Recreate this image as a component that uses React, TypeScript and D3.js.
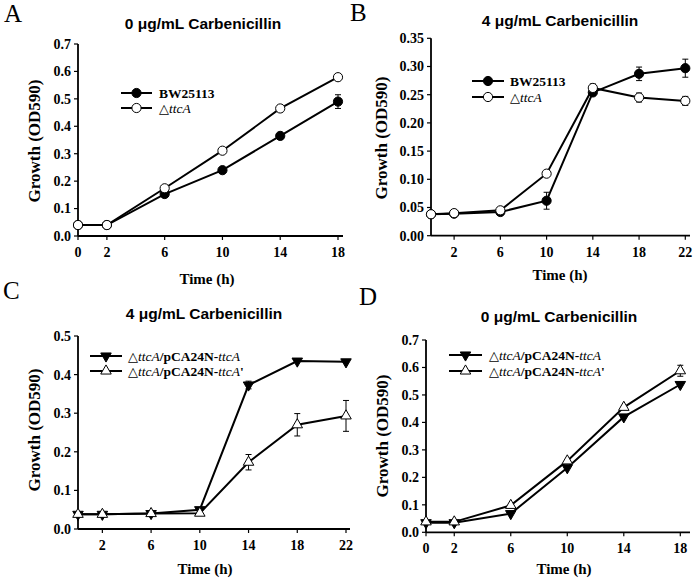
import React from 'react';
import * as d3 from 'd3';

// ---------- data ----------
const timeShort = [0, 2, 6, 10, 14, 18];
const timeLong = [0, 2, 6, 10, 14, 18, 22];
const ticksShort = [0, 2, 6, 10, 14, 18];
const ticksLong = [2, 6, 10, 14, 18, 22];

// Panel A: 0 µg/mL
const aBW = [0.04, 0.04, 0.153, 0.24, 0.365, 0.49];
const aBWErr = [0, 0, 0, 0, 0.005, 0.025];
const aTtc = [0.04, 0.04, 0.174, 0.311, 0.465, 0.579];
const aTtcErr = [0, 0, 0, 0, 0, 0];

// Panel B: 4 µg/mL
const bBW = [0.038, 0.039, 0.042, 0.062, 0.254, 0.287, 0.297];
const bBWErr = [0, 0, 0, 0.015, 0, 0.012, 0.016];
const bTtc = [0.038, 0.04, 0.045, 0.11, 0.262, 0.245, 0.239];
const bTtcErr = [0, 0, 0, 0, 0.007, 0.008, 0.008];

// Panel C: 4 µg/mL complementation
const cComp = [0.038, 0.038, 0.04, 0.05, 0.373, 0.435, 0.433];
const cCompErr = [0, 0, 0, 0.003, 0.01, 0, 0];
const cVec = [0.038, 0.038, 0.04, 0.041, 0.173, 0.27, 0.293];
const cVecErr = [0, 0, 0, 0, 0.02, 0.029, 0.04];

// Panel D: 0 µg/mL complementation
const dComp = [0.035, 0.035, 0.068, 0.235, 0.42, 0.538];
const dCompErr = [0, 0, 0, 0, 0, 0];
const dVec = [0.038, 0.038, 0.098, 0.26, 0.455, 0.588];
const dVecErr = [0, 0, 0, 0, 0, 0.02];

const titles = ['0 μg/mL Carbenicillin', '4 μg/mL Carbenicillin', '4 μg/mL Carbenicillin', '0 μg/mL Carbenicillin'];
const panelLetters = ['A', 'B', 'C', 'D'];
const yLabel = 'Growth (OD590)';
const xLabel = 'Time (h)';

const SERIF = '"Liberation Serif", "Times New Roman", serif';
const SANS = '"Liberation Sans", Arial, sans-serif';

type MarkerType = 'circleFilled' | 'circleOpen' | 'triDown' | 'triUp';

function Marker({ type, x, y }: { type: MarkerType; x: number; y: number }) {
  if (type === 'circleFilled' || type === 'circleOpen') {
    return (
      <circle cx={x} cy={y} r={4.6} fill={type === 'circleFilled' ? '#000' : '#fff'} stroke="#000" strokeWidth={1} />
    );
  }
  const p = d3.symbol().type(d3.symbolTriangle).size(48)() as string;
  return (
    <path
      d={p}
      transform={`translate(${x},${y}) rotate(${type === 'triDown' ? 180 : 0})`}
      fill={type === 'triDown' ? '#000' : '#fff'}
      stroke="#000"
      strokeWidth={1}
    />
  );
}

type LegendItem = { label: React.ReactNode; marker: MarkerType };

type PanelCfg = {
  times: number[];
  xTicks: number[];
  xMax: number;
  x0: number;
  x1: number;
  axisEnd: number;
  yMax: number;
  yStep: number;
  yFmt: string;
  yBottom: number;
  yTop: number;
  series: { values: number[]; err: number[]; marker: MarkerType }[];
  title: string;
  titlePos: [number, number];
  letter: string;
  letterPos: [number, number];
  yLabelPos: [number, number];
  xLabelPos: [number, number];
  legend: LegendItem[];
  legendLine: [number, number];
  legendRows: number[];
  legendTextX: number;
};

function Panel({ c }: { c: PanelCfg }) {
  const x = d3.scaleLinear().domain([0, c.xMax]).range([c.x0, c.x1]);
  const y = d3.scaleLinear().domain([0, c.yMax]).range([c.yBottom, c.yTop]);
  const yTicks = d3.range(0, c.yMax + c.yStep / 2, c.yStep);
  const fmt = d3.format(c.yFmt);
  const axisX = c.x0;
  const line = d3
    .line<number>()
    .x((_, i) => x(c.times[i]))
    .y((d) => y(d));
  return (
    <g>
      {/* axes */}
      <line x1={axisX} x2={axisX} y1={c.yTop} y2={c.yBottom} stroke="#000" strokeWidth={1.8} />
      <line x1={axisX} x2={c.axisEnd} y1={c.yBottom} y2={c.yBottom} stroke="#000" strokeWidth={1.8} />
      {yTicks.map((t) => (
        <g key={'y' + t}>
          <line x1={axisX - 4} x2={axisX} y1={y(t)} y2={y(t)} stroke="#000" strokeWidth={1.2} />
          <text x={axisX - 7} y={y(t)} dy="0.35em" textAnchor="end" fontFamily={SERIF} fontWeight="bold" fontSize={14}>
            {fmt(t)}
          </text>
        </g>
      ))}
      {c.xTicks.map((t) => (
        <g key={'x' + t}>
          <line x1={x(t)} x2={x(t)} y1={c.yBottom} y2={c.yBottom + 4} stroke="#000" strokeWidth={1.2} />
          <text x={x(t)} y={c.yBottom + 21} textAnchor="middle" fontFamily={SERIF} fontWeight="bold" fontSize={14}>
            {t}
          </text>
        </g>
      ))}
      {/* labels */}
      <text x={c.titlePos[0]} y={c.titlePos[1]} textAnchor="middle" fontFamily={SANS} fontWeight="bold" fontSize={15.5}>
        {c.title}
      </text>
      <text x={c.letterPos[0]} y={c.letterPos[1]} fontFamily={SERIF} fontSize={25}>
        {c.letter}
      </text>
      <text
        transform={`translate(${c.yLabelPos[0]},${c.yLabelPos[1]}) rotate(-90)`}
        textAnchor="middle"
        dy="0.35em"
        fontFamily={SERIF}
        fontWeight="bold"
        fontSize={17}
      >
        {yLabel}
      </text>
      <text x={c.xLabelPos[0]} y={c.xLabelPos[1]} textAnchor="middle" fontFamily={SERIF} fontWeight="bold" fontSize={15}>
        {xLabel}
      </text>
      {/* series */}
      {c.series.map((s, si) => (
        <g key={'s' + si}>
          <path d={line(s.values) as string} fill="none" stroke="#000" strokeWidth={2} />
          {s.values.map((v, i) =>
            s.err[i] > 0 ? (
              <g key={'e' + i}>
                <line x1={x(c.times[i])} x2={x(c.times[i])} y1={y(v - s.err[i])} y2={y(v + s.err[i])} stroke="#000" strokeWidth={1} />
                <line x1={x(c.times[i]) - 3} x2={x(c.times[i]) + 3} y1={y(v - s.err[i])} y2={y(v - s.err[i])} stroke="#000" strokeWidth={1} />
                <line x1={x(c.times[i]) - 3} x2={x(c.times[i]) + 3} y1={y(v + s.err[i])} y2={y(v + s.err[i])} stroke="#000" strokeWidth={1} />
              </g>
            ) : null
          )}
          {s.values.map((v, i) => (
            <Marker key={'m' + i} type={s.marker} x={x(c.times[i])} y={y(v)} />
          ))}
        </g>
      ))}
      {/* legend */}
      {c.legend.map((l, i) => (
        <g key={'l' + i}>
          <line x1={c.legendLine[0]} x2={c.legendLine[1]} y1={c.legendRows[i]} y2={c.legendRows[i]} stroke="#000" strokeWidth={2} />
          <Marker type={l.marker} x={(c.legendLine[0] + c.legendLine[1]) / 2} y={c.legendRows[i]} />
          <text x={c.legendTextX} y={c.legendRows[i]} dy="0.35em" fontFamily={SERIF} fontWeight="bold" fontSize={13.5}>
            {l.label}
          </text>
        </g>
      ))}
    </g>
  );
}

const delta = <tspan fontFamily={'"DejaVu Sans", sans-serif'} fontWeight="normal" fontSize={13}>△</tspan>;
const lblBW: React.ReactNode = 'BW25113';
const lblTtc: React.ReactNode = (
  <>
    {delta}
    <tspan fontStyle="italic" fontWeight="normal">ttcA</tspan>
  </>
);
const lblComp: React.ReactNode = (
  <>
    {delta}
    <tspan fontStyle="italic" fontWeight="normal">ttcA</tspan>
    <tspan>/pCA24N-</tspan>
    <tspan fontStyle="italic" fontWeight="normal">ttcA</tspan>
  </>
);
const lblVec: React.ReactNode = (
  <>
    {delta}
    <tspan fontStyle="italic" fontWeight="normal">ttcA</tspan>
    <tspan>/pCA24N-</tspan>
    <tspan fontStyle="italic" fontWeight="normal">ttcA</tspan>
    <tspan>'</tspan>
  </>
);

const panels: PanelCfg[] = [
  {
    times: timeShort, xTicks: ticksShort, xMax: 18, x0: 78, x1: 338, axisEnd: 343,
    yMax: 0.7, yStep: 0.1, yFmt: '.1f', yBottom: 236, yTop: 44,
    series: [
      { values: aBW, err: aBWErr, marker: 'circleFilled' },
      { values: aTtc, err: aTtcErr, marker: 'circleOpen' },
    ],
    title: titles[0], titlePos: [203, 29], letter: panelLetters[0], letterPos: [4, 22],
    yLabelPos: [34, 141], xLabelPos: [207, 284],
    legend: [
      { label: lblBW, marker: 'circleFilled' },
      { label: lblTtc, marker: 'circleOpen' },
    ],
    legendLine: [121, 152], legendRows: [93, 108], legendTextX: 159,
  },
  {
    times: timeLong, xTicks: ticksLong, xMax: 22, x0: 431, x1: 685.3, axisEnd: 690,
    yMax: 0.35, yStep: 0.05, yFmt: '.2f', yBottom: 235.7, yTop: 38.3,
    series: [
      { values: bBW, err: bBWErr, marker: 'circleFilled' },
      { values: bTtc, err: bTtcErr, marker: 'circleOpen' },
    ],
    title: titles[1], titlePos: [560, 26], letter: panelLetters[1], letterPos: [350, 21],
    yLabelPos: [381, 138], xLabelPos: [560, 280],
    legend: [
      { label: lblBW, marker: 'circleFilled' },
      { label: lblTtc, marker: 'circleOpen' },
    ],
    legendLine: [472, 504], legendRows: [81, 97], legendTextX: 510,
  },
  {
    times: timeLong, xTicks: ticksLong, xMax: 22, x0: 78, x1: 346, axisEnd: 350,
    yMax: 0.5, yStep: 0.1, yFmt: '.1f', yBottom: 529, yTop: 336,
    series: [
      { values: cComp, err: cCompErr, marker: 'triDown' },
      { values: cVec, err: cVecErr, marker: 'triUp' },
    ],
    title: titles[2], titlePos: [204, 319], letter: panelLetters[2], letterPos: [3, 299],
    yLabelPos: [34, 430], xLabelPos: [205, 574],
    legend: [
      { label: lblComp, marker: 'triDown' },
      { label: lblVec, marker: 'triUp' },
    ],
    legendLine: [90, 122], legendRows: [356, 371], legendTextX: 128,
  },
  {
    times: timeShort, xTicks: ticksShort, xMax: 18, x0: 426, x1: 680.3, axisEnd: 690,
    yMax: 0.7, yStep: 0.1, yFmt: '.1f', yBottom: 532.3, yTop: 340,
    series: [
      { values: dComp, err: dCompErr, marker: 'triDown' },
      { values: dVec, err: dVecErr, marker: 'triUp' },
    ],
    title: titles[3], titlePos: [559, 322], letter: panelLetters[3], letterPos: [359, 305],
    yLabelPos: [382, 436], xLabelPos: [564, 574],
    legend: [
      { label: lblComp, marker: 'triDown' },
      { label: lblVec, marker: 'triUp' },
    ],
    legendLine: [449, 482], legendRows: [355, 371], legendTextX: 489,
  },
];

export default function App() {
  return (
    <svg
      width={697}
      height={584}
      viewBox="0 0 697 584"
      style={{ position: 'absolute', left: 0, top: 0, background: '#fff' }}
    >
      <rect width={697} height={584} fill="#fff" />
      {panels.map((p, i) => (
        <Panel key={i} c={p} />
      ))}
    </svg>
  );
}
